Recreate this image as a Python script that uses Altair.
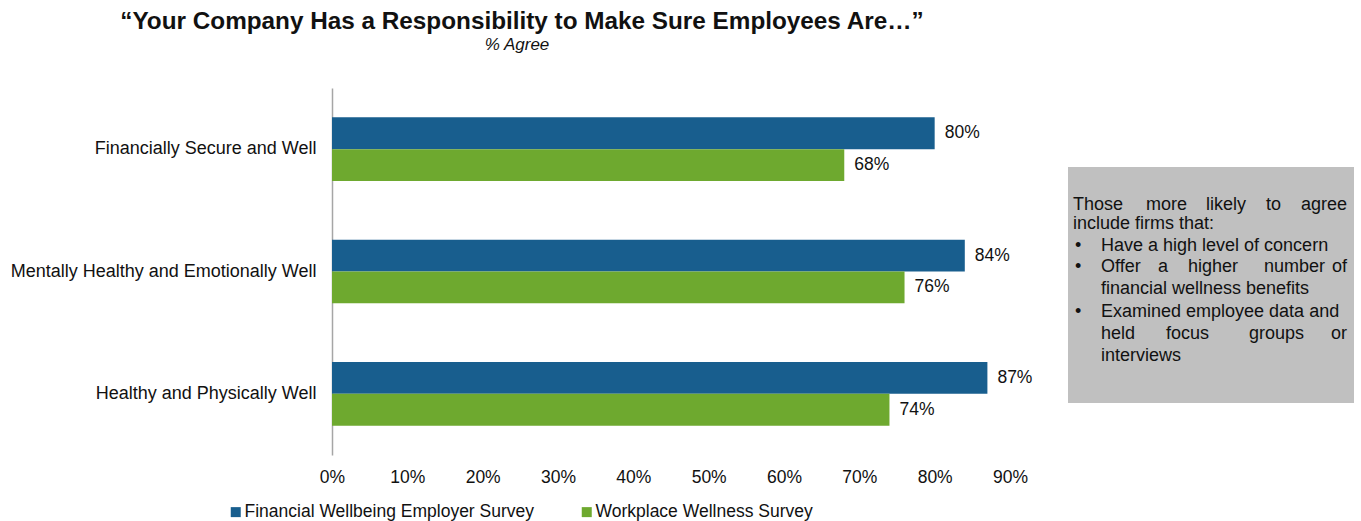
import altair as alt
import pandas as pd

categories = ["Financially Secure and Well", "Mentally Healthy and Emotionally Well", "Healthy and Physically Well"]
series = ["Financial Wellbeing Employer Survey", "Workplace Wellness Survey"]
fin_values = [80, 84, 87]
wwl_values = [68, 76, 74]
x_ticks = [0, 10, 20, 30, 40, 50, 60, 70, 80, 90]
colors = ["#185E8E", "#6EA92F"]

title_text = "\u201cYour Company Has a Responsibility to Make Sure Employees Are\u2026\u201d"
subtitle_text = "% Agree"

# Note box text, one entry per rendered line (justified lines are split into words)
box_lines = [
    ["Those", "more", "likely", "to", "agree"],
    ["include firms that:"],
    ["\u2022", "Have a high level of concern"],
    ["\u2022", "Offer", "a", "higher", "number", "of"],
    ["financial wellness benefits"],
    ["\u2022", "Examined employee data and"],
    ["held", "focus", "groups", "or"],
    ["interviews"],
]
# pixel placement of the note's words (annotation layout, not data)
box_word_x = [
    [(1073, "left"), (1146, "left"), (1206, "left"), (1266, "left"), (1347, "right")],
    [(1073, "left")],
    [(1075, "left"), (1101, "left")],
    [(1075, "left"), (1101, "left"), (1158, "left"), (1188, "left"), (1264, "left"), (1347, "right")],
    [(1101, "left")],
    [(1075, "left"), (1101, "left")],
    [(1101, "left"), (1166, "left"), (1249, "left"), (1347, "right")],
    [(1101, "left")],
]
box_line_y = [205, 224, 246, 267, 289, 312, 334, 356]

rows = []
for i, c in enumerate(categories):
    rows.append({"category": c, "series": series[0], "value": fin_values[i]})
    rows.append({"category": c, "series": series[1], "value": wwl_values[i]})
df = pd.DataFrame(rows)

FONT = "Liberation Sans"
TXT = "#111111"
W, H = 678, 367
LEFT, TOP = 332, 88

base = alt.Chart(df).encode(
    y=alt.Y("category:N", sort=categories,
            scale=alt.Scale(paddingInner=0.48, paddingOuter=0.24),
            axis=alt.Axis(title=None, ticks=False, labelFontSize=18, labelFont=FONT,
                          labelColor=TXT, labelPadding=16, domainColor="#A6A6A6",
                          domainWidth=1.5, labelLimit=400)),
    yOffset=alt.YOffset("series:N", sort=series),
)

bars = base.mark_bar().encode(
    x=alt.X("value:Q", scale=alt.Scale(domain=[0, 90], nice=False),
            axis=alt.Axis(title=None, values=x_ticks, ticks=False, domain=False, grid=False,
                          labelExpr="datum.value + '%'", labelFontSize=17.5, labelFont=FONT,
                          labelColor=TXT, labelPadding=13, labelFlush=False)),
    color=alt.Color("series:N", sort=series,
                    scale=alt.Scale(domain=series, range=colors),
                    legend=alt.Legend(title=None, orient="none", direction="horizontal",
                                      legendX=-105, legendY=415, symbolType="square",
                                      symbolSize=100, symbolStrokeWidth=0, labelFontSize=17.5,
                                      labelFont=FONT, labelColor=TXT, columnPadding=43,
                                      labelOffset=0, symbolOpacity=1, labelLimit=400)),
)

labels = base.mark_text(align="left", dx=10, fontSize=17.5, font=FONT, color=TXT).transform_calculate(
    lbl="datum.value + '%'"
).encode(x="value:Q", text="lbl:N")

box_df = pd.DataFrame({"a": [0]})
box = alt.Chart(box_df).mark_rect(color="#C0C0C0").encode(
    x=alt.value(1068 - LEFT), x2=alt.value(1354 - LEFT),
    y=alt.value(167 - TOP), y2=alt.value(403 - TOP),
)

text_layers = []
for words, xs, yy in zip(box_lines, box_word_x, box_line_y):
    for w, (xx, al) in zip(words, xs):
        d = pd.DataFrame({"t": [w]})
        text_layers.append(alt.Chart(d).mark_text(align=al, baseline="middle", fontSize=18,
                                                  font=FONT, color=TXT).encode(
            x=alt.value(xx - LEFT), y=alt.value(yy - TOP), text="t:N"))

title_df = pd.DataFrame({"t": [title_text]})
title = alt.Chart(title_df).mark_text(align="center", baseline="middle", fontSize=24.3,
                                      fontWeight="bold", font=FONT, color=TXT).encode(
    x=alt.value(522 - LEFT), y=alt.value(22 - TOP), text="t:N")
sub_df = pd.DataFrame({"t": [subtitle_text]})
subtitle = alt.Chart(sub_df).mark_text(align="center", baseline="middle", fontSize=17,
                                       fontStyle="italic", font=FONT, color=TXT).encode(
    x=alt.value(517 - LEFT), y=alt.value(45 - TOP), text="t:N")

chart = alt.layer(bars, labels, box, title, subtitle, *text_layers).properties(
    width=W, height=H,
    background="white",
    autosize=alt.AutoSizeParams(type="none"),
    padding={"left": LEFT, "top": TOP, "right": 1361 - LEFT - W, "bottom": 521 - TOP - H},
).configure_view(strokeWidth=0, stroke="transparent")

chart.save("out.html", embed_options={"renderer": "svg", "actions": False})
